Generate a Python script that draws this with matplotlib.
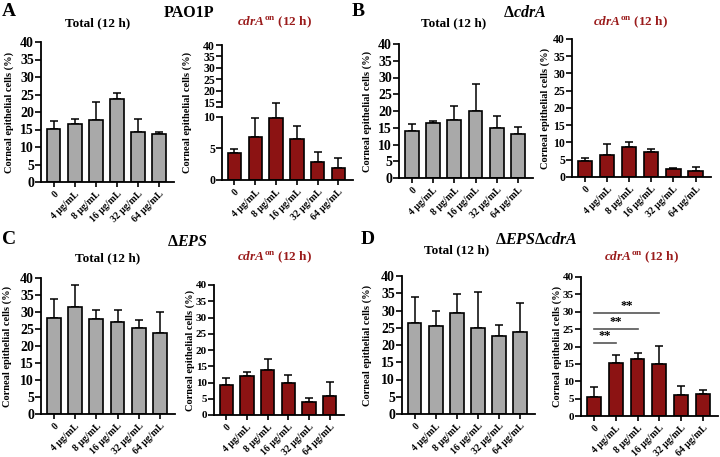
import numpy as np
import matplotlib
matplotlib.use("Agg")
import matplotlib.pyplot as plt

plt.rcParams['font.family'] = ['Liberation Serif', 'DejaVu Serif']
plt.rcParams['font.weight'] = 'bold'
plt.rcParams['mathtext.fontset'] = 'custom'
plt.rcParams['mathtext.rm'] = 'Liberation Serif:bold'
plt.rcParams['mathtext.bf'] = 'Liberation Serif:bold'
plt.rcParams['mathtext.it'] = 'Liberation Serif:bold:italic'

categories = ["0", "4 μg/mL", "8 μg/mL", "16 μg/mL", "32 μg/mL", "64 μg/mL"]

A_total = [15.2, 16.5, 17.6, 23.7, 14.4, 13.6]
A_total_err = [2.3, 1.6, 5.2, 1.7, 3.7, 0.8]
A_cdra = [4.3, 6.8, 9.7, 6.5, 2.8, 1.9]
A_cdra_err = [0.6, 3.0, 5.1, 2.0, 1.6, 1.5]

B_total = [14.1, 16.3, 17.4, 19.9, 14.8, 13.1]
B_total_err = [2.0, 0.7, 4.1, 8.1, 3.8, 2.2]
B_cdra = [4.5, 6.4, 8.7, 7.3, 2.2, 1.7]
B_cdra_err = [1.0, 3.3, 1.4, 0.8, 0.5, 1.3]

C_total = [28.3, 31.4, 27.8, 27.2, 25.4, 23.8]
C_total_err = [5.5, 6.6, 2.9, 3.5, 2.2, 6.1]
C_cdra = [9.3, 12.0, 13.8, 9.7, 3.9, 6.0]
C_cdra_err = [2.2, 1.1, 3.3, 2.5, 1.2, 4.2]

D_total = [26.4, 25.6, 29.4, 25.0, 22.5, 23.9]
D_total_err = [7.6, 4.2, 5.5, 10.3, 3.2, 8.3]
D_cdra = [5.6, 15.3, 16.3, 15.0, 5.9, 6.3]
D_cdra_err = [2.8, 2.3, 1.9, 5.1, 2.7, 1.1]

sig_pairs = [(0, 1), (0, 2), (0, 3)]
sig_heights = [21.0, 25.0, 29.6]
sig_labels = ["**", "**", "**"]

GRAY = "#A9A9A9"
RED = "#8C1313"
TITLE_RED = "#9A1B1B"
W, H = 720, 457

fig = plt.figure(figsize=(7.2, 4.57), dpi=100)


def make_ax(left, right, top, bottom):
    return fig.add_axes([left / W, 1 - bottom / H, (right - left) / W, (bottom - top) / H])


def style(ax, tick_fs, label_dx):
    for s in ['top', 'right']:
        ax.spines[s].set_visible(False)
    for s in ['left', 'bottom']:
        ax.spines[s].set_linewidth(1.3)
    ax.set_xlim(-0.6, 5.7)
    ax.set_ylim(0, 40)
    ax.set_yticks(np.arange(0, 41, 5))
    ax.set_xticks(np.arange(len(categories)))
    ax.set_xticklabels(categories, rotation=45, ha='right', va='top',
                       rotation_mode='anchor', fontsize=7, fontweight='bold')
    ax.tick_params(axis='y', labelsize=tick_fs, width=1.2, length=4, pad=1)
    ax.tick_params(axis='x', width=1.2, length=3.5, pad=2)
    for lab in ax.get_yticklabels():
        lab.set_fontweight('bold')
    ax.set_ylabel("Corneal epithelial cells (%)", fontsize=7.5, fontweight='bold')
    bbox = ax.get_position()
    # label_dx = distance (px) from axis to label centre; anchor is label's right side
    ax.yaxis.set_label_coords(-(label_dx - 5) / (bbox.width * W), 0.5)


def bars(ax, vals, errs, color):
    x = np.arange(len(vals))
    ax.bar(x, vals, width=0.64, color=color, edgecolor='black', linewidth=1.2, zorder=2)
    ax.errorbar(x, vals, yerr=[np.zeros(len(errs)), errs], fmt='none',
                ecolor='black', elinewidth=1.1, capsize=3, capthick=1.1, zorder=1)


def title(ax, text, xc, yc, color='black'):
    fig.text(xc / W, 1 - yc / H, text, ha='center', va='center', fontsize=9.5,
             fontweight='bold', color=color)


cdra_title = r'$\mathit{cdrA}^{\mathrm{on}}$ (12 h)'

# ---- Panel A ----
ax = make_ax(41, 174, 42, 182)
bars(ax, A_total, A_total_err, GRAY)
style(ax, 10, 32)
title(ax, "Total (12 h)", 98, 23)

# broken axis for A cdrA
gap, k, brk = 1.43, 0.362, 12.8


def fwd(y):
    y = np.asarray(y, dtype=float)
    return np.where(y <= 10, y,
                    np.where(y <= brk, 10 + (y - 10) * gap / (brk - 10),
                             10 + gap + (y - brk) * k))


def inv(z):
    z = np.asarray(z, dtype=float)
    return np.where(z <= 10, z,
                    np.where(z <= 10 + gap, 10 + (z - 10) * (brk - 10) / gap,
                             brk + (z - 10 - gap) / k))


ax = make_ax(222, 353, 45, 180)
ax.set_yscale('function', functions=(fwd, inv))
bars(ax, A_cdra, A_cdra_err, RED)
style(ax, 8.5, 35)
ax.spines['left'].set_visible(False)
yt = ax.get_yaxis_transform()
ax.plot([0, 0], [0, 10], transform=yt, color='black', lw=1.3, clip_on=False)
ax.plot([0, 0], [brk, 40], transform=yt, color='black', lw=1.3, clip_on=False)
ax.set_yticks([brk], minor=True)
ax.tick_params(axis='y', which='minor', length=4, width=1.2)
ax.set_ylim(0, 40)
title(ax, cdra_title, 274, 22, TITLE_RED)

# ---- Panel B ----
ax = make_ax(399, 533, 44, 178)
bars(ax, B_total, B_total_err, GRAY)
style(ax, 10, 32)
title(ax, "Total (12 h)", 454, 23)

ax = make_ax(572, 711, 39, 177)
bars(ax, B_cdra, B_cdra_err, RED)
style(ax, 8.5, 27)
title(ax, cdra_title, 630, 22, TITLE_RED)

# ---- Panel C ----
ax = make_ax(41, 175, 278, 414)
bars(ax, C_total, C_total_err, GRAY)
style(ax, 10, 34)
title(ax, "Total (12 h)", 108, 258)

ax = make_ax(214, 344, 285, 415)
bars(ax, C_cdra, C_cdra_err, RED)
style(ax, 8, 24)
title(ax, cdra_title, 274, 257, TITLE_RED)

# ---- Panel D ----
ax = make_ax(402, 535, 276, 414)
bars(ax, D_total, D_total_err, GRAY)
style(ax, 10, 35)
title(ax, "Total (12 h)", 457, 250)

ax = make_ax(581, 718, 277, 416)
bars(ax, D_cdra, D_cdra_err, RED)
style(ax, 8, 24)
title(ax, cdra_title, 641, 257, TITLE_RED)
for (a, b), h, lab in zip(sig_pairs, sig_heights, sig_labels):
    ax.plot([a, b], [h, h], color='#555555', lw=1.2)
    ax.text((a + b) / 2, h + 0.4, lab, ha='center', va='bottom', fontsize=9,
            fontweight='bold')

# strain labels and panel letters
fig.text(189 / W, 1 - 13 / H, "PAO1P", ha='center', va='center', fontsize=11.5, fontweight='bold')
fig.text(525 / W, 1 - 13 / H, r'$\Delta\mathit{cdrA}$', ha='center', va='center', fontsize=11.5)
fig.text(187 / W, 1 - 242 / H, r'$\Delta\mathit{EPS}$', ha='center', va='center', fontsize=11.5)
fig.text(536 / W, 1 - 240 / H, r'$\Delta\mathit{EPS}\Delta\mathit{cdrA}$', ha='center', va='center', fontsize=11.5)

for letter, x, y in [("A", 9, 12), ("B", 358, 12), ("C", 9, 240), ("D", 368, 240)]:
    fig.text(x / W, 1 - y / H, letter, ha='center', va='center', fontsize=14, fontweight='bold')

fig.savefig("out.png", dpi=100)
